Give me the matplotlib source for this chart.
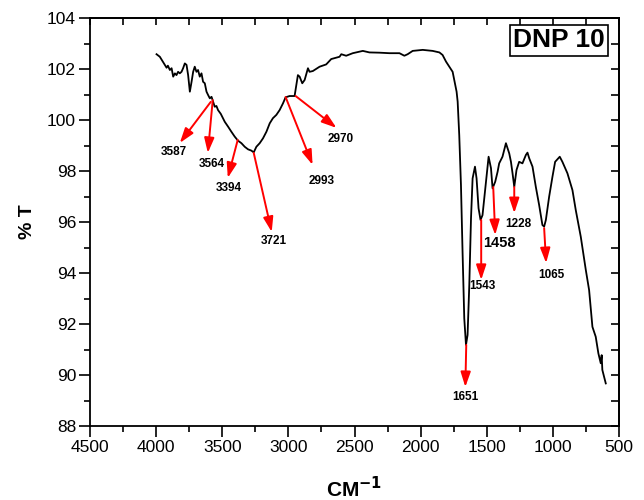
import matplotlib
matplotlib.use("Agg")
import matplotlib.pyplot as plt
import numpy as np

plt.rcParams['font.family'] = ['Liberation Sans', 'DejaVu Sans']

# FTIR spectrum (wavenumber cm^-1, %T)
wavenumber = [3997, 3972, 3949, 3934, 3921, 3911, 3896, 3883, 3871, 3858, 3846, 3834,
              3821, 3808, 3796, 3783, 3770, 3758, 3745, 3732, 3720, 3708, 3695, 3683,
              3670, 3657, 3645, 3632, 3619, 3607, 3594, 3581, 3569, 3557, 3544, 3532,
              3511, 3481, 3456, 3431, 3406, 3381, 3355, 3330, 3305, 3280, 3262, 3242,
              3217, 3192, 3166, 3141, 3117, 3091, 3066, 3041, 3021, 2991, 2953, 2928,
              2915, 2895, 2877, 2852, 2840, 2815, 2764, 2714, 2676, 2613, 2600, 2563,
              2513, 2437, 2387, 2311, 2236, 2160, 2123, 2098, 2060, 1984, 1909, 1858,
              1834, 1808, 1783, 1758, 1738, 1728, 1720, 1708, 1695, 1683, 1670, 1657,
              1645, 1632, 1619, 1607, 1589, 1577, 1562, 1547, 1532, 1506, 1486, 1468,
              1456, 1436, 1418, 1406, 1381, 1355, 1330, 1317, 1305, 1292, 1275, 1255,
              1230, 1204, 1192, 1179, 1154, 1129, 1104, 1079, 1066, 1053, 1028, 1003,
              983, 948, 928, 890, 852, 827, 789, 751, 726, 701, 676, 656, 638, 631,
              626, 600]
transmittance = [102.58, 102.48, 102.29, 102.16, 102.05, 102.13, 101.96, 102.03, 101.70,
                 101.83, 101.76, 101.89, 101.83, 101.89, 102.03, 102.22, 102.16, 101.76,
                 101.11, 101.50, 101.89, 102.09, 101.89, 101.96, 101.70, 101.83, 101.50,
                 101.44, 101.11, 100.98, 100.85, 100.91, 100.72, 100.52, 100.55, 100.39,
                 100.24, 99.93, 99.74, 99.54, 99.35, 99.19, 99.09, 98.95, 98.85, 98.80,
                 98.73, 98.95, 99.09, 99.28, 99.54, 99.87, 100.07, 100.20, 100.39, 100.65,
                 100.89, 100.94, 100.94, 101.76, 101.70, 101.44, 101.57, 102.03, 101.89,
                 101.92, 102.09, 102.18, 102.39, 102.48, 102.58, 102.52, 102.62, 102.71,
                 102.65, 102.64, 102.62, 102.62, 102.52, 102.58, 102.71, 102.75, 102.71,
                 102.65, 102.55, 102.29, 102.09, 101.89, 101.37, 101.11, 100.72, 99.41,
                 97.45, 94.84, 92.22, 91.18, 91.57, 93.53, 96.15, 97.71, 98.17, 97.71,
                 96.54, 96.08, 96.27, 97.58, 98.56, 98.11, 97.32, 97.58, 97.97, 98.30,
                 98.56, 99.09, 98.69, 98.36, 97.91, 97.38, 98.04, 98.36, 98.30, 98.63,
                 98.72, 98.50, 98.17, 97.38, 96.67, 95.88, 95.82, 96.08, 97.00, 97.78,
                 98.36, 98.56, 98.36, 97.91, 97.25, 96.47, 95.42, 94.12, 93.33, 91.89,
                 91.50, 90.85, 90.46, 90.78, 90.20, 89.67]

# Peak annotations: label, arrow tail (on curve), arrow tip, label position
peak_labels = ['3587', '3564', '3394', '3721', '2993', '2970',
               '1651', '1543', '1458', '1228', '1065']
arrow_tail = [(3587, 100.71), (3572, 100.78), (3383, 99.22), (3262, 98.71),
              (3021, 100.90), (2945, 100.94), (1655, 91.18), (1542, 96.08),
              (1451, 97.37), (1292, 97.37), (1066, 95.76)]
arrow_tip = [(3821, 99.10), (3609, 98.71), (3458, 97.73), (3126, 95.61),
             (2817, 98.24), (2636, 99.69), (1662, 89.53), (1542, 93.73),
             (1436, 95.49), (1292, 96.35), (1051, 94.39)]
label_pos = [(3866, 98.75), (3579, 98.27), (3451, 97.33), (3111, 95.25),
             (2749, 97.61), (2606, 99.25), (1662, 89.14), (1534, 93.49),
             (1406, 95.18), (1262, 95.92), (1013, 93.92)]
label_size = [8.5, 8.5, 8.5, 8.5, 8.5, 8.5, 8.5, 8.5, 10.5, 8.5, 8.5]

x_ticks = [4500, 4000, 3500, 3000, 2500, 2000, 1500, 1000, 500]
y_ticks = [88, 90, 92, 94, 96, 98, 100, 102, 104]

fig = plt.figure(figsize=(6.44, 5.0), dpi=100)
ax = fig.add_axes([90/644, 1-426/500, (619-90)/644, (426-18)/500])

ax.plot(wavenumber, transmittance, color='black', lw=1.3)

for lab, t, h, p, s in zip(peak_labels, arrow_tail, arrow_tip, label_pos, label_size):
    ax.annotate('', xy=h, xytext=t,
                arrowprops=dict(arrowstyle='-|>,head_length=0.9,head_width=0.3',
                                color='red', lw=1.4, mutation_scale=10,
                                shrinkA=0, shrinkB=0))
    ax.text(p[0], p[1], lab, fontsize=s, fontweight='bold', ha='center', va='center')

ax.set_xlim(4500, 500)
ax.set_ylim(88, 104)
ax.set_xticks(x_ticks)
ax.set_yticks(y_ticks)
ax.set_xticks(np.arange(4250, 500, -500), minor=True)
ax.set_yticks(np.arange(89, 104, 2), minor=True)
ax.tick_params(which='major', direction='out', length=8, width=1.2, labelsize=12.5, pad=2)
ax.tick_params(which='minor', direction='out', length=4, width=1.2)
for sp in ax.spines.values():
    sp.set_linewidth(1.3)

top = ax.secondary_xaxis('top')
top.set_xticks(np.arange(4500, 499, -250))
top.tick_params(direction='in', length=5, width=1.2, labeltop=False)
right = ax.secondary_yaxis('right')
right.set_yticks(np.arange(88, 105, 1))
right.tick_params(direction='in', length=6, width=1.2, labelright=False)
for sa in (top, right):
    for sp in sa.spines.values():
        sp.set_linewidth(1.3)

ax.set_ylabel('% T', fontsize=14, fontweight='bold', labelpad=8)
ax.set_xlabel('CM$^{\\mathbf{-1}}$', fontsize=15, fontweight='bold', labelpad=15)

ax.text(0.887, 0.945, 'DNP 10', transform=ax.transAxes, fontsize=19, fontweight='bold',
        ha='center', va='center',
        bbox=dict(boxstyle='square,pad=0.12', facecolor='white', edgecolor='black', lw=1.2))

fig.savefig('out.png', dpi=100)
